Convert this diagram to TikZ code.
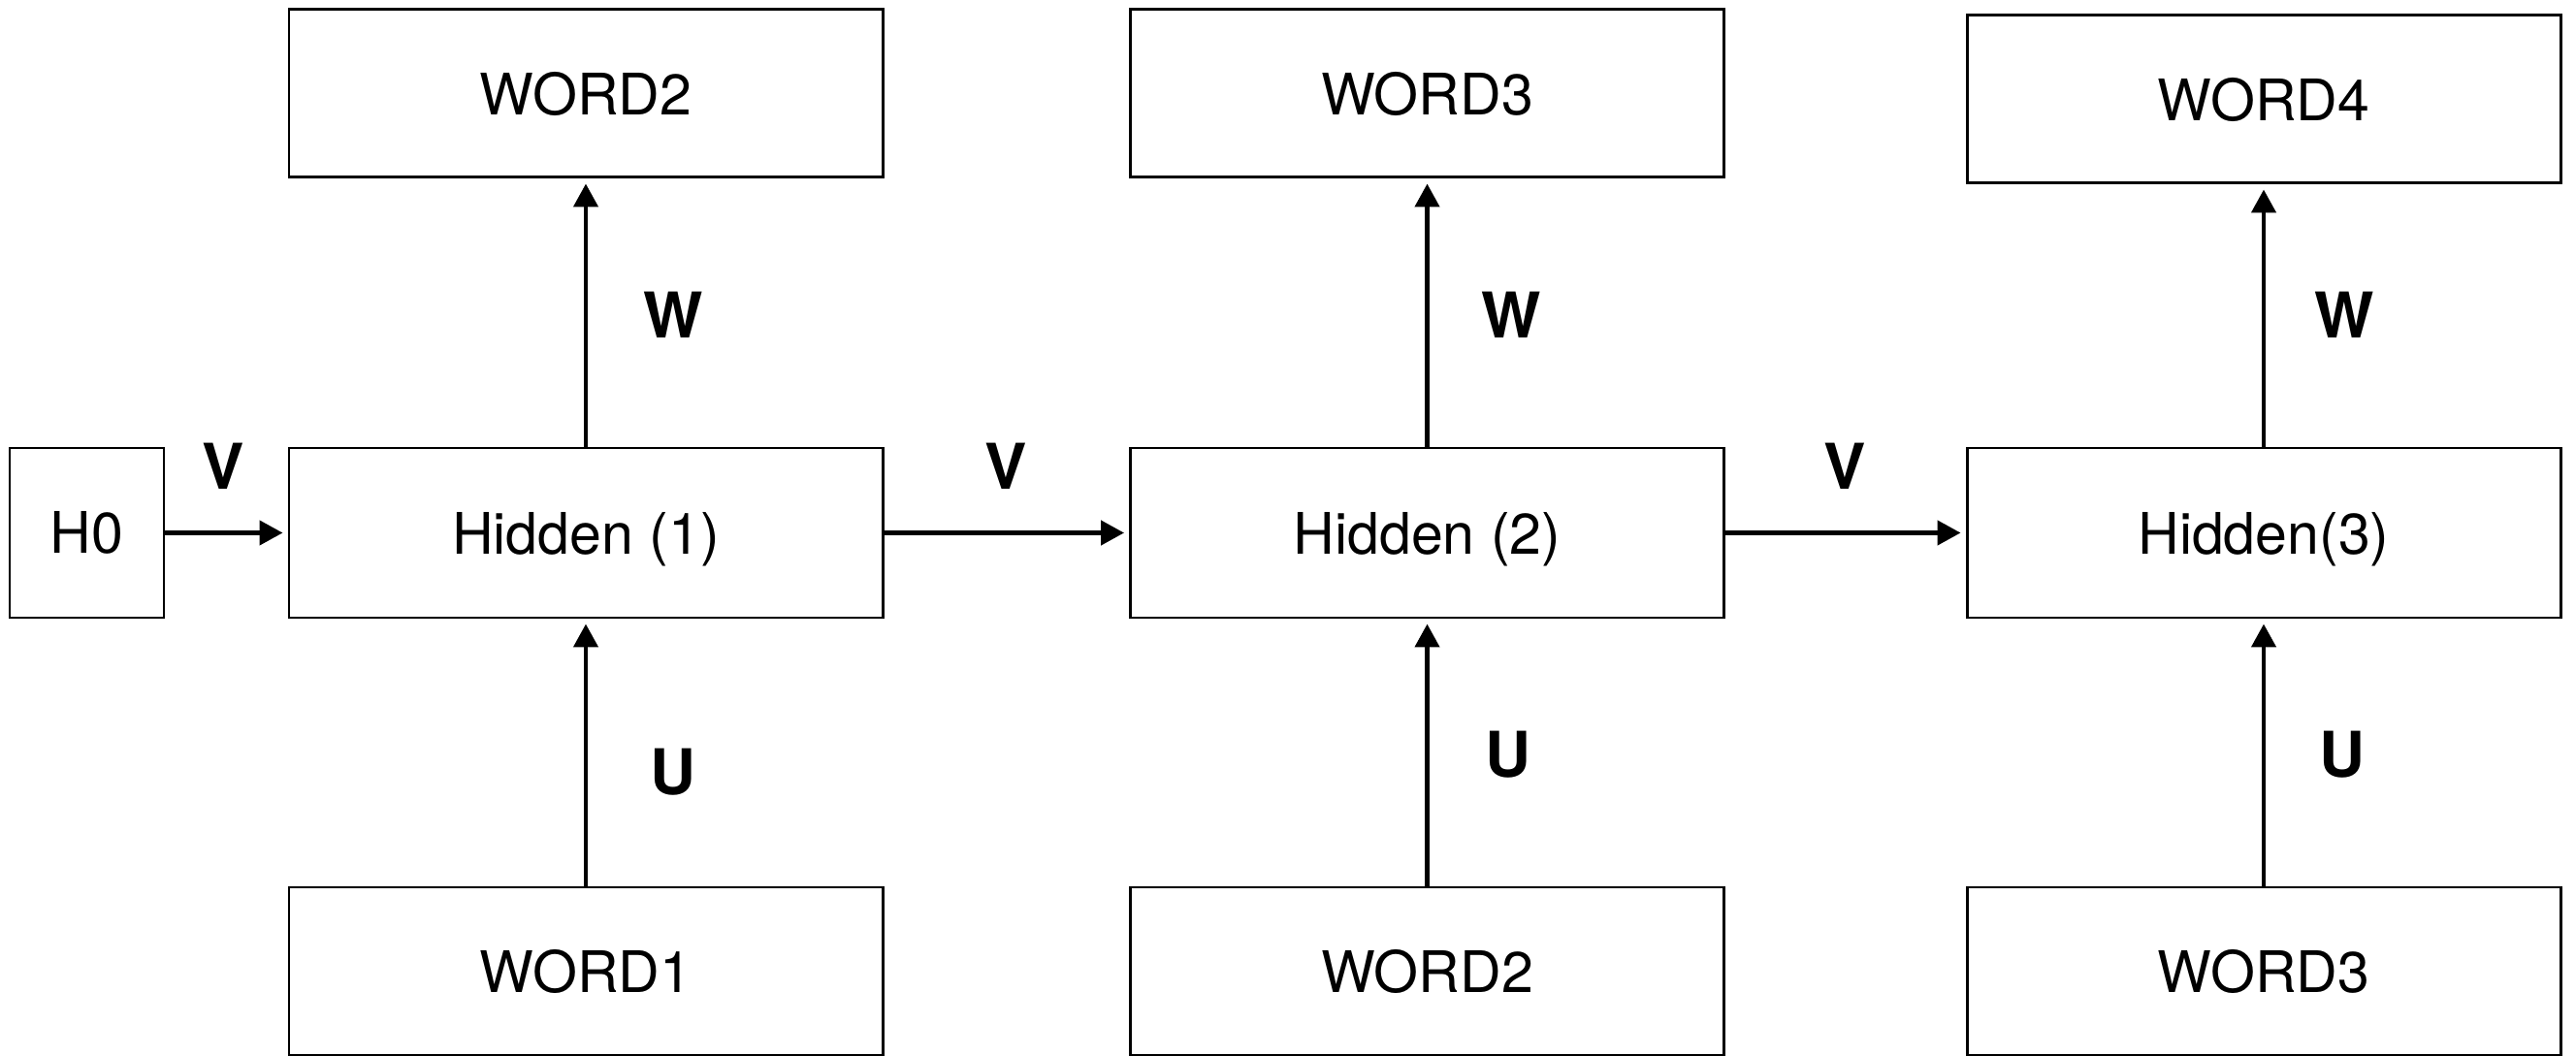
\documentclass[tikz,border=0pt]{standalone}
\usepackage{fontspec}
\setmainfont{TeX Gyre Heros}
\usetikzlibrary{arrows.meta}

\begin{document}
\begin{tikzpicture}[
    box/.style={draw, rectangle, line width=0.85pt, minimum width=6.12cm, minimum height=1.73cm, font=\fontsize{16.8}{20}\selectfont},
    lbl/.style={font=\fontsize{18.5}{22}\selectfont\bfseries},
    arr/.style={-{Triangle[length=0.24cm, width=0.25cm]}, line width=1.3pt, shorten >=0.05cm}
]
                \useasboundingbox (0,0) rectangle (26.56,10.88);

                % Initial hidden state
                \node[draw, rectangle, line width=0.85pt, minimum width=1.59cm, minimum height=1.75cm, font=\fontsize{16.8}{20}\selectfont] (h0) at (0.895,5.385) {H0};

                % Hidden states
                \node[box, minimum height=1.75cm, text depth=0pt] (hidden1) at (6.04,5.385) {Hidden (1)};
                \node[box, minimum height=1.75cm, text depth=0pt] (hidden2) at (14.715,5.385) {Hidden (2)};
                \node[box, minimum height=1.75cm, text depth=0pt] (hidden3) at (23.34,5.385) {Hidden(3)};

                % Output words
                \node[box] (out1) at (6.04,9.915) {WORD2};
                \node[box] (out2) at (14.715,9.915) {WORD3};
                \node[box] (out3) at (23.34,9.855) {WORD4};

                % Input words
                \node[box] (in1) at (6.04,0.865) {WORD1};
                \node[box] (in2) at (14.715,0.865) {WORD2};
                \node[box] (in3) at (23.34,0.865) {WORD3};

                % Recurrent connections
                \draw[arr] (h0) -- (hidden1);
                \draw[arr] (hidden1) -- (hidden2);
                \draw[arr] (hidden2) -- (hidden3);

                % Hidden to output
                \draw[arr] (hidden1) -- (out1);
                \draw[arr] (hidden2) -- (out2);
                \draw[arr] (hidden3) -- (out3);

                % Input to hidden
                \draw[arr] (in1) -- (hidden1);
                \draw[arr] (in2) -- (hidden2);
                \draw[arr] (in3) -- (hidden3);

                % Weight labels
                \node[lbl] (v1) at (2.30,6.07) {V};
                \node[lbl] (v2) at (10.37,6.07) {V};
                \node[lbl] (v3) at (19.02,6.07) {V};
                \node[lbl] (w1) at (6.94,7.63) {W};
                \node[lbl] (w2) at (15.58,7.63) {W};
                \node[lbl] (w3) at (24.17,7.63) {W};
                \node[lbl] (u1) at (6.94,2.92) {U};
                \node[lbl] (u2) at (15.55,3.10) {U};
                \node[lbl] (u3) at (24.15,3.10) {U};
            \end{tikzpicture}
\end{document}
